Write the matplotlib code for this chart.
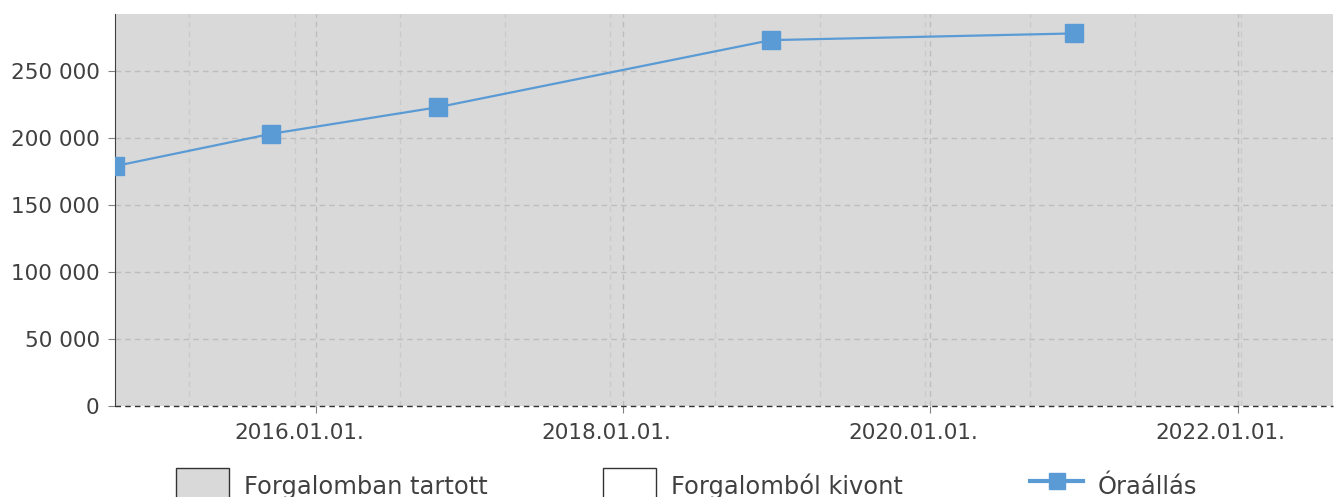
import matplotlib
matplotlib.use("Agg")
import matplotlib.pyplot as plt
import matplotlib.dates as mdates
import matplotlib.ticker as mticker
import matplotlib.transforms as mtransforms
from matplotlib.patches import Patch
from matplotlib.lines import Line2D
import pandas as pd

# Óraállás readings
dates = pd.to_datetime(["2014-09-10", "2015-09-15", "2016-10-18", "2018-12-18", "2020-12-08"])
values = [179000, 203000, 223000, 273000, 278000]

legend_labels = ["Forgalomban tartott", "Forgalomból kivont", "Óraállás"]
x_start, x_end = pd.Timestamp("2014-09-10"), pd.Timestamp("2022-08-16")
y_max = 292500

BLUE = "#5b9bd5"
BG = "#d9d9d9"
TXT = "#404040"

fig = plt.figure(figsize=(13.35, 4.97), dpi=100)
ax = fig.add_axes([115 / 1335, 91 / 497, 1218 / 1335, 392 / 497])
ax.set_facecolor(BG)

ax.plot(dates, values, color=BLUE, lw=1.6, marker="s", markersize=13, zorder=5)

ax.set_xlim(x_start, x_end)
ax.set_ylim(0, y_max)

ax.xaxis.set_major_locator(mdates.YearLocator(2))
ax.xaxis.set_major_formatter(mdates.DateFormatter("%Y.%m.%d."))
ax.xaxis.set_minor_locator(mticker.MultipleLocator(250))
ax.yaxis.set_major_locator(mticker.MultipleLocator(50000))
ax.yaxis.set_major_formatter(mticker.FuncFormatter(lambda v, p: f"{int(v):,}".replace(",", " ")))

ax.grid(which="major", axis="both", color="#bdbdbd", ls=(0, (4, 3)), lw=1)
ax.grid(which="minor", axis="x", color="#cacaca", ls=(0, (4, 3)), lw=1)
ax.set_axisbelow(True)
ax.tick_params(which="minor", length=0)
ax.tick_params(which="major", length=5, color="#808080", labelcolor=TXT, labelsize=15.5)
ax.tick_params(axis="x", pad=7)
ax.tick_params(axis="y", pad=6)

# date labels sit a bit left of their tick in the original
shift = mtransforms.ScaledTranslation(-17 / 100, 0, fig.dpi_scale_trans)
for lbl in ax.get_xticklabels():
    lbl.set_transform(lbl.get_transform() + shift)

for s in ["top", "right", "bottom"]:
    ax.spines[s].set_visible(False)
ax.spines["left"].set_color("#404040")
ax.axhline(0, color="#333333", lw=1, ls=(0, (4, 3)), zorder=6, clip_on=False)

handles = [
    Patch(facecolor=BG, edgecolor="#333333", lw=1),
    Patch(facecolor="white", edgecolor="#333333", lw=1),
    Line2D([], [], color=BLUE, lw=3, marker="s", markersize=11),
]
for h, lab, xpos in zip(handles, legend_labels, [176, 603, 1030]):
    fig.legend([h], [lab], loc="upper left", bbox_to_anchor=(xpos / 1335, 1 - 468 / 497),
               frameon=False, borderpad=0, borderaxespad=0, fontsize=17.4,
               handlelength=2.2, handleheight=2.0, handletextpad=0.6, labelcolor=TXT)

fig.savefig("out.png", dpi=100)
